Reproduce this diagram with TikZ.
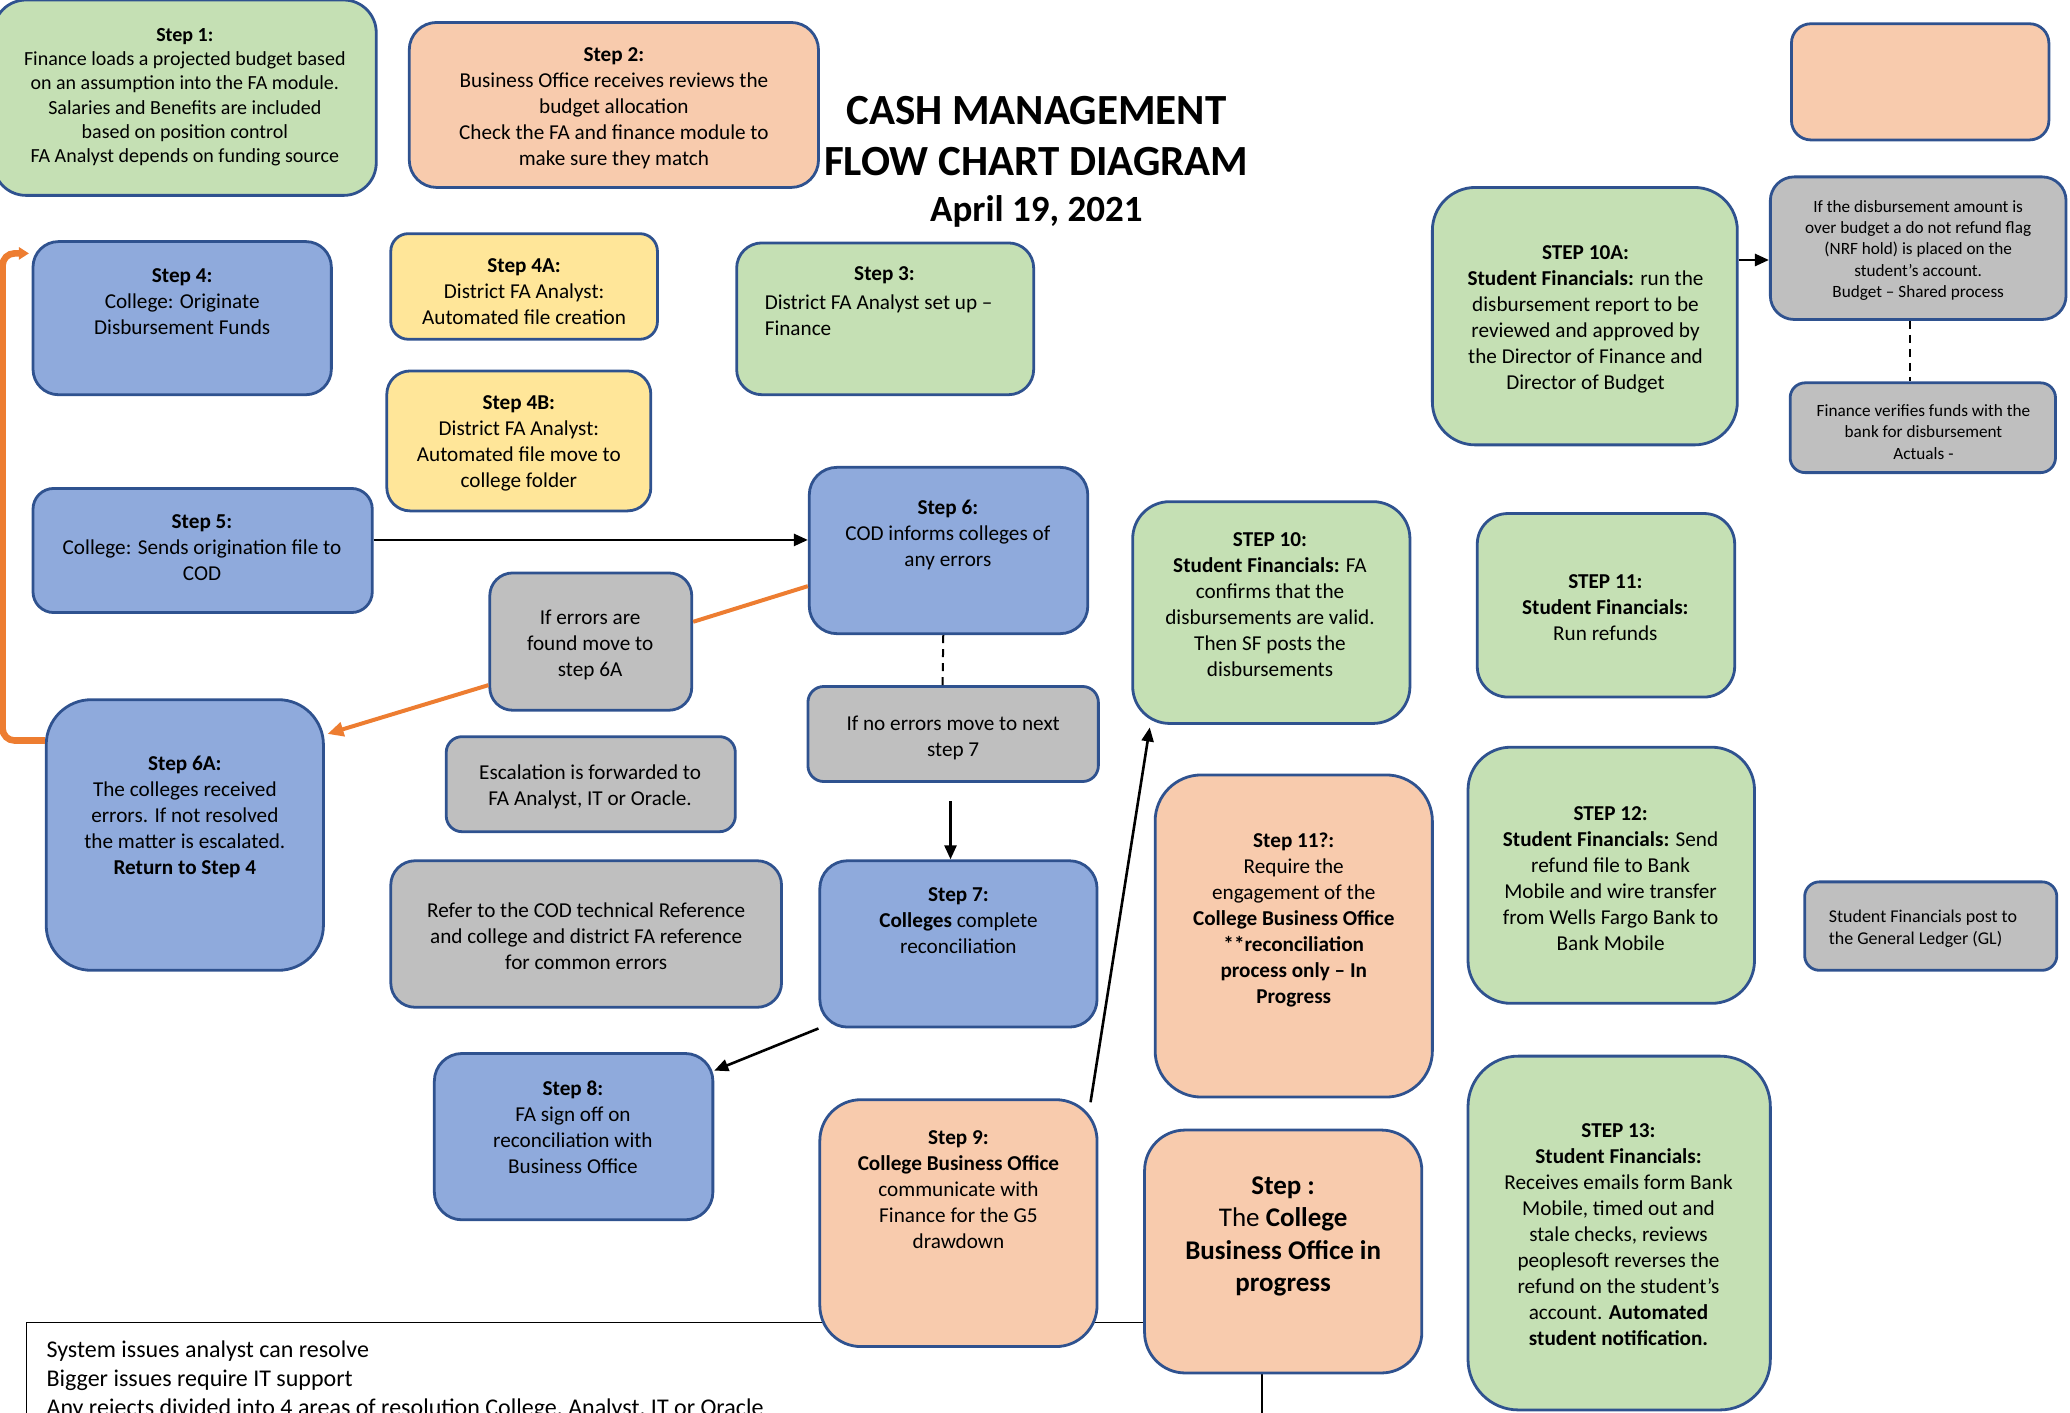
\documentclass[tikz,border=0pt]{standalone}
\usepackage{fontspec}
\setmainfont{Carlito}
\usetikzlibrary{calc,arrows.meta}
\definecolor{cgreen}{HTML}{C5E0B4}
\definecolor{cpeach}{HTML}{F8CBAD}
\definecolor{cblue}{HTML}{8FAADC}
\definecolor{cyellow}{HTML}{FFE699}
\definecolor{cgray}{HTML}{BFBFBF}
\definecolor{cborder}{HTML}{2F528F}
\definecolor{corange}{HTML}{ED7D31}
\begin{document}
\begin{tikzpicture}[x=0.6601pt,y=-0.6601pt,
  bx/.style n args={4}{draw=cborder, line width=1.4pt, rectangle, inner sep=0pt,
    at={({(#1+#3)/2},{(#2+#4)/2})},
    minimum width={(#3-#1)*0.6601pt}, minimum height={(#4-#2)*0.6601pt},
    rounded corners={min(#3-#1,#4-#2)/6*0.6601pt}},
  txt/.style={align=center, inner sep=0pt, yshift=-1pt, font=\fontsize{10.6}{13}\selectfont},
  smalltxt/.style={align=center, inner sep=0pt, yshift=-0.8pt, font=\fontsize{8.6}{10.7}\selectfont},
  arr/.style={line width=1.3pt, -{Triangle[length=7pt,width=6pt]}},
  oline/.style={corange, line width=2pt},
  dashline/.style={line width=1pt, dash pattern=on 4pt off 3pt}
]
\useasboundingbox (0,0) rectangle (1568,1070);
\clip (0,0) rectangle (1568,1070);

% bottom text box (behind)
\node[draw=black, line width=0.6pt, rectangle, inner sep=0pt, at={(488,1052)}, minimum width={936*0.6601pt}, minimum height={100*0.6601pt}, fill=white] (notes) {};
\node[anchor=north west, align=left, inner sep=0pt, font=\fontsize{12}{14.5}\selectfont] (notestxt) at (35,1015)
  {System issues analyst can resolve\\Bigger issues require IT support\\Any rejects divided into 4 areas of resolution College, Analyst, IT or Oracle};

% title
\node[font=\fontsize{21.5}{25}\selectfont\bfseries, inner sep=0pt] (title1) at (785,83.5) {CASH MANAGEMENT};
\node[font=\fontsize{21.5}{25}\selectfont\bfseries, inner sep=0pt] (title2) at (785,122.5) {FLOW CHART DIAGRAM};
\node[font=\fontsize{18.5}{22}\selectfont\bfseries, inner sep=0pt] (date) at (785,160.5) {April 19, 2021};

% boxes
\node[bx={-5}{0}{285}{148}, fill=cgreen] (s1) {};
\node[txt, font=\fontsize{10}{12.15}\selectfont] (t1) at (140,72) {\textbf{Step 1:}\\Finance loads a projected budget based\\on an assumption into the FA module.\\Salaries and Benefits are included\\based on position control\\FA Analyst depends on funding source};

\node[bx={310}{17}{620}{142}, fill=cpeach] (s2) {};
\node[txt] (t2) at (465,80.5) {\textbf{Step 2:}\\Business Office receives reviews the\\budget allocation\\Check the FA and finance module to\\make sure they match};

\node[bx={1357}{18}{1552}{106}, fill=cpeach] (blank) {};

\node[bx={25}{183}{251}{299}, fill=cblue] (s4) {};
\node[txt] (t4) at (138,227) {\textbf{Step 4:}\\College: Originate\\Disbursement Funds};

\node[bx={296}{177}{498}{257}, fill=cyellow] (s4a) {};
\node[txt] (t4a) at (397,219.5) {\textbf{Step 4A:}\\District FA Analyst:\\Automated file creation};

\node[bx={558}{184}{783}{299}, fill=cgreen] (s3) {};
\node[txt] (t3a) at (670,207) {\textbf{Step 3:}};
\node[txt, anchor=west, align=left] (t3b) at (579,237) {District FA Analyst set up –\\Finance};

\node[bx={293}{281}{493}{387}, fill=cyellow] (s4b) {};
\node[txt] (t4b) at (393,334.5) {\textbf{Step 4B:}\\District FA Analyst:\\Automated file move to\\college folder};

\node[bx={1085}{142}{1316}{337}, fill=cgreen] (s10a) {};
\node[txt] (t10a) at (1201,240.5) {\textbf{STEP 10A:}\\\textbf{Student Financials:} run the\\disbursement report to be\\reviewed and approved by\\the Director of Finance and\\Director of Budget};

\node[bx={1341}{134}{1565}{242}, fill=cgray] (nrf) {};
\node[smalltxt] (tnrf) at (1453,188.5) {If the disbursement amount is\\over budget a do not refund flag\\(NRF hold) is placed on the\\student’s account.\\Budget – Shared process};

\node[bx={1356}{290}{1557}{358}, fill=cgray] (fin) {};
\node[smalltxt] (tfin) at (1457,326) {Finance verifies funds with the\\bank for disbursement\\Actuals -};

\node[bx={25}{370}{282}{464}, fill=cblue] (s5) {};
\node[txt] (t5) at (153,413.5) {\textbf{Step 5:}\\College: Sends origination file to\\COD};

\node[bx={613}{354}{824}{480}, fill=cblue] (s6) {};
\node[txt] (t6) at (718,403.5) {\textbf{Step 6:}\\COD informs colleges of\\any errors};

\node[bx={371}{434}{524}{538}, fill=cgray] (err) {};
\node[txt] (terr) at (447,487) {If errors are\\found move to\\step 6A};

\node[bx={858}{380}{1068}{548}, fill=cgreen] (s10) {};
\node[txt] (t10) at (962,456.5) {\textbf{STEP 10:}\\\textbf{Student Financials:} FA\\confirms that the\\disbursements are valid.\\Then SF posts the\\disbursements};

\node[bx={1119}{389}{1314}{528}, fill=cgreen] (s11) {};
\node[txt] (t11) at (1216,459) {\textbf{STEP 11:}\\\textbf{Student Financials:}\\Run refunds};

\node[bx={35}{530}{245}{735}, fill=cblue] (s6a) {};
\node[txt] (t6a) at (140,617.5) {\textbf{Step 6A:}\\The colleges received\\errors. If not resolved\\the matter is escalated.\\\textbf{Return to Step 4}};

\node[bx={338}{558}{557}{630}, fill=cgray] (esc) {};
\node[txt] (tesc) at (447,594.5) {Escalation is forwarded to\\FA Analyst, IT or Oracle.};

\node[bx={612}{520}{832}{592}, fill=cgray] (noerr) {};
\node[txt] (tnoerr) at (722,557.5) {If no errors move to next\\step 7};

\node[bx={875}{587}{1085}{831}, fill=cpeach] (s11q) {};
\node[txt] (t11q) at (980,695) {\textbf{Step 11?:}\\Require the\\engagement of the\\\textbf{College Business Office}\\\textbf{**reconciliation}\\\textbf{process only – In}\\\textbf{Progress}};

\node[bx={1112}{566}{1329}{760}, fill=cgreen] (s12) {};
\node[txt] (t12) at (1220,664) {\textbf{STEP 12:}\\\textbf{Student Financials:} Send\\refund file to Bank\\Mobile and wire transfer\\from Wells Fargo Bank to\\Bank Mobile};

\node[bx={1367}{668}{1558}{735}, fill=cgray] (gl) {};
\node[smalltxt, anchor=west, align=left, font=\fontsize{9}{11.2}\selectfont] (tgl) at (1385,702.5) {Student Financials post to\\the General Ledger (GL)};

\node[bx={296}{652}{592}{763}, fill=cgray] (ref) {};
\node[txt] (tref) at (444,708) {Refer to the COD technical Reference\\and college and district FA reference\\for common errors};

\node[bx={621}{652}{831}{778}, fill=cblue] (s7) {};
\node[txt] (t7) at (726,696) {\textbf{Step 7:}\\\textbf{Colleges} complete\\reconciliation};

\node[bx={329}{798}{540}{924}, fill=cblue] (s8) {};
\node[txt] (t8) at (434,852.5) {\textbf{Step 8:}\\FA sign off on\\reconciliation with\\Business Office};

\node[bx={621}{833}{831}{1020}, fill=cpeach] (s9) {};
\node[txt] (t9) at (726,899.5) {\textbf{Step 9:}\\\textbf{College Business Office}\\communicate with\\Finance for the G5\\drawdown};

\node[bx={867}{856}{1077}{1040}, fill=cpeach] (sc) {};
\node[txt, font=\fontsize{13.5}{16.3}\selectfont] (tsc) at (972,935) {\textbf{Step :}\\The \textbf{College}\\\textbf{Business Office in}\\\textbf{progress}};

\node[bx={1112}{800}{1341}{1068}, fill=cgreen] (s13) {};
\node[txt] (t13) at (1226,934) {\textbf{STEP 13:}\\\textbf{Student Financials:}\\Receives emails form Bank\\Mobile, timed out and\\stale checks, reviews\\peoplesoft reverses the\\refund on the student’s\\account. \textbf{Automated}\\\textbf{student notification.}};

% connectors
\draw[arr] ($(s5.east)+(0,-8)$) -- ($(s6.west)+(0,-8)$);
\draw[oline] ($(s6.west)+(0,27)$) -- ($(err.east)+(0,-15)$);
\draw[oline, -{Triangle[length=8pt,width=7pt]}] ($(err.west)+(0,33)$) -- ($(s6a.north east)+(2,27)$);
\draw[corange, line width=3.3pt, rounded corners=6pt, -{Triangle[length=5pt,width=6pt]}]
  ($(s6a.north west)+(0,32)$) -- ($(s6a.north west)+(-32,32)$) -- ($(s4.north west)+(-22,10)$) -- ($(s4.north west)+(-2,10)$);
\draw[dashline] ($(s6.south)+(-4,0)$) -- ($(noerr.north)+(-8,0)$);
\draw[arr] ($(noerr.south)+(-2,14)$) -- ($(s7.north)+(-6,0)$);
\draw[arr] (s7.south west) -- ($(s8.north east)+(0,14)$);
\draw[arr] ($(s9.north east)+(-6,3)$) -- ($(s10.south west)+(14,2)$);
\draw[arr] ($(s10a.north east)+(0,56)$) -- ($(nrf.north west)+(0,64)$);
\draw[dashline] ($(nrf.south)+(-6,0)$) -- ($(fin.north)+(-9.5,0)$);
\end{tikzpicture}
\end{document}
